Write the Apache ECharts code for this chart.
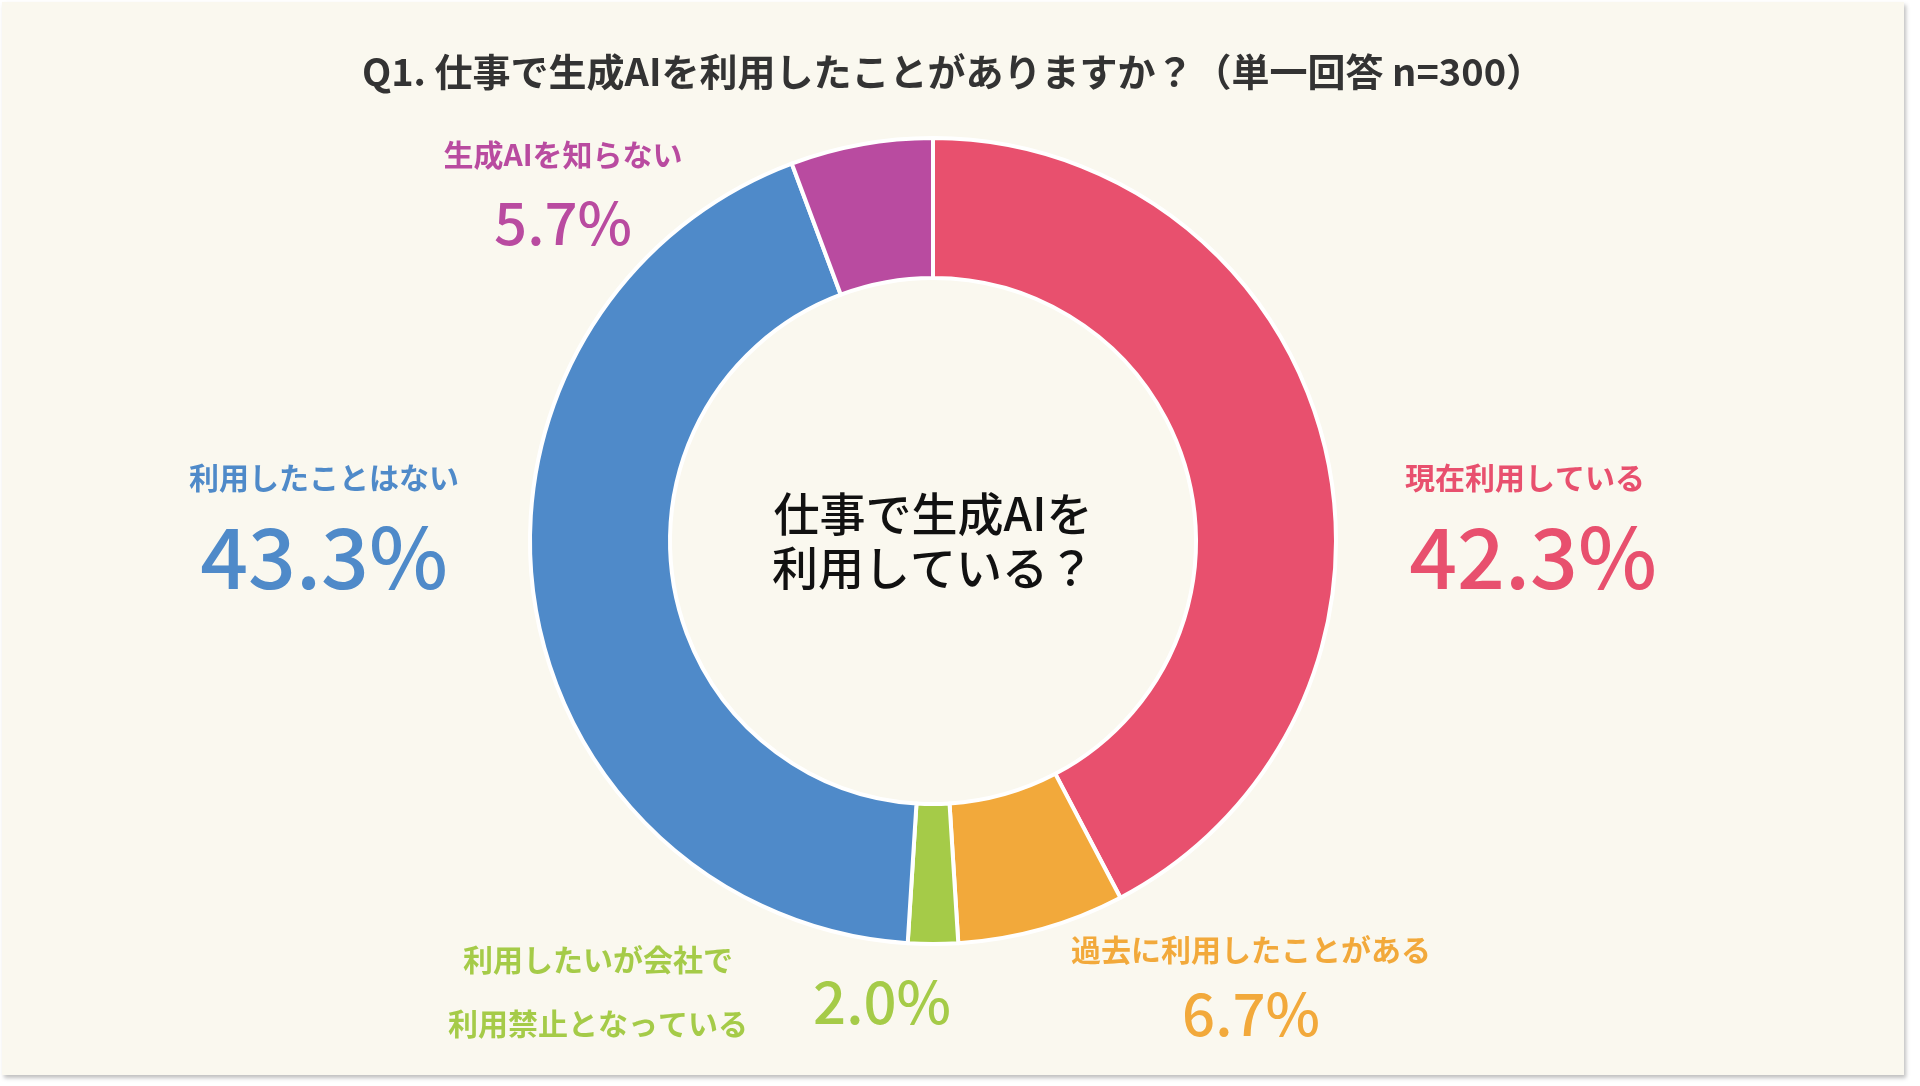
<!DOCTYPE html>
<html>
<head>
<meta charset="utf-8" />
<title>生成AI利用状況</title>
<script src="https://cdn.jsdelivr.net/npm/echarts@6/dist/echarts.min.js"></script>
<style>
  html, body { margin: 0; padding: 0; background: #ffffff; }
  #card { position: absolute; left: 2px; top: 2px; width: 1902px; height: 1073px;
          background: #faf8ef; box-shadow: 2px 3px 4px rgba(0,0,0,0.25); }
  #main { width: 1902px; height: 1073px; }
</style>
</head>
<body>
<div id="card"><div id="main"></div></div>
<script type="text/javascript">
    // 回答の区分と割合（%）
    let categories = ['現在利用している', '過去に利用したことがある', '利用したいが会社で\n利用禁止となっている', '利用したことはない', '生成AIを知らない'];
    let values = [42.3, 6.7, 2.0, 43.3, 5.7];
    let colors = ['#e8506e', '#f2a93b', '#a5cb48', '#4f8ac9', '#b94ba0'];

    let font = '"Noto Sans CJK JP", "Noto Sans", sans-serif';
    // ラベルの置き場所（name x,y / value x,y / 数値サイズ）
    let spots = [
        [1523, 476, 1531, 555, 84],
        [1249, 948, 1249, 1012, 58],
        [596, 990, 880, 1000, 58],
        [322, 476, 322, 555, 84],
        [561, 153, 561, 221, 58]
    ];

    let texts = [];
    for (let i = 0; i < categories.length; i++) {
        let s = spots[i];
        texts.push({
            type: 'text', x: s[0], y: s[1],
            style: { text: categories[i], fill: colors[i], font: 'bold 30px ' + font,
                     align: 'center', verticalAlign: 'middle', lineHeight: 64 }
        });
        texts.push({
            type: 'text', x: s[2], y: s[3],
            style: { text: values[i].toFixed(1) + '%', fill: colors[i], font: '500 ' + s[4] + 'px ' + font,
                     align: 'center', verticalAlign: 'middle' }
        });
    }
    texts.push({
        type: 'text', x: 931, y: 539,
        style: { text: '仕事で生成AIを\n利用している？', fill: '#111', font: '500 46px ' + font,
                 align: 'center', verticalAlign: 'middle', lineHeight: 54 }
    });

    let data = [];
    for (let i = 0; i < categories.length; i++) {
        data.push({ name: categories[i], value: values[i], itemStyle: { color: colors[i] } });
    }

    let option = {
        backgroundColor: 'transparent',
        animation: false,
        title: {
            text: 'Q1. 仕事で生成AIを利用したことがありますか？（単一回答 n=300）',
            left: 'center', top: 46,
            textStyle: { fontFamily: font, fontSize: 38, fontWeight: 'bold', color: '#333' }
        },
        series: [{
            type: 'pie',
            center: [931, 539],
            radius: [263, 403],
            startAngle: 90,
            clockwise: true,
            label: { show: false },
            labelLine: { show: false },
            itemStyle: { borderColor: '#ffffff', borderWidth: 4 },
            data: data
        }],
        graphic: texts
    };

    let myChart = echarts.init(document.getElementById('main'));
    myChart.setOption(option);
</script>
</body>
</html>
